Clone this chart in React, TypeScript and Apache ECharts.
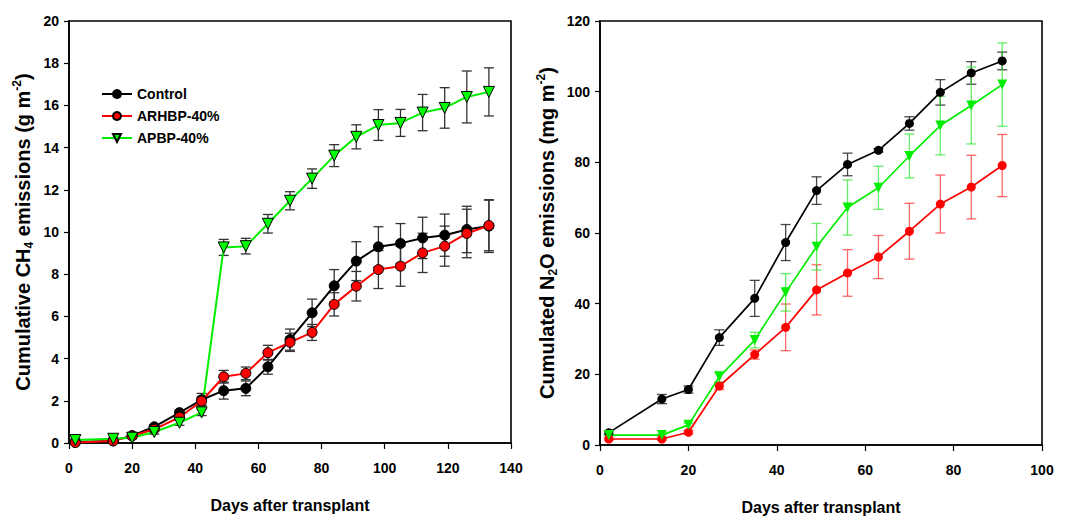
import React, { useEffect, useRef } from "react";
import * as echarts from "echarts";

const seriesNames = ["Control", "ARHBP-40%", "APBP-40%"];

const ch4Days = [2, 14, 20, 27, 35, 42, 49, 56, 63, 70, 77, 84, 91, 98, 105, 112, 119, 126, 133];
const ch4Control = [0.05, 0.1, 0.35, 0.77, 1.44, 2.05, 2.48, 2.59, 3.61, 4.9, 6.17, 7.45, 8.62, 9.3, 9.46, 9.72, 9.85, 10.12, 10.28];
const ch4ControlErr = [0.05, 0.05, 0.05, 0.1, 0.12, 0.3, 0.4, 0.35, 0.35, 0.5, 0.65, 0.77, 0.92, 0.95, 0.94, 0.98, 1.0, 1.1, 1.25];
const ch4Arhbp = [0.02, 0.1, 0.33, 0.65, 1.22, 1.99, 3.14, 3.3, 4.28, 4.77, 5.24, 6.57, 7.43, 8.22, 8.38, 9.01, 9.33, 9.93, 10.31];
const ch4ArhbpErr = [0.03, 0.05, 0.05, 0.08, 0.1, 0.2, 0.3, 0.3, 0.35, 0.43, 0.38, 0.55, 0.7, 0.9, 0.95, 0.93, 0.95, 1.15, 1.2];
const ch4Apbp = [0.14, 0.2, 0.25, 0.52, 0.96, 1.45, 9.27, 9.33, 10.39, 11.48, 12.53, 13.62, 14.51, 15.07, 15.17, 15.66, 15.88, 16.4, 16.64];
const ch4ApbpErr = [0.05, 0.05, 0.05, 0.1, 0.12, 0.15, 0.38, 0.37, 0.44, 0.43, 0.46, 0.52, 0.57, 0.73, 0.64, 0.86, 0.96, 1.23, 1.14];

const n2oDays = [2, 14, 20, 27, 35, 42, 49, 56, 63, 70, 77, 84, 91];
const n2oControl = [3.5, 13.0, 15.7, 30.4, 41.5, 57.3, 72.0, 79.4, 83.4, 91.0, 99.8, 105.3, 108.7];
const n2oControlErr = [0.5, 1.3, 1.0, 2.2, 5.1, 5.1, 3.9, 3.2, 0.5, 1.9, 3.6, 3.2, 2.5];
const n2oArhbp = [1.7, 1.7, 3.6, 16.7, 25.6, 33.3, 43.9, 48.7, 53.2, 60.5, 68.2, 73.0, 79.1];
const n2oArhbpErr = [0.3, 0.3, 0.5, 1.0, 1.3, 6.6, 7.1, 6.6, 6.1, 7.9, 8.2, 9.0, 8.8];
const n2oApbp = [2.8, 2.8, 5.7, 19.3, 29.7, 43.2, 56.1, 67.2, 72.8, 81.8, 90.4, 96.1, 102.0];
const n2oApbpErr = [0.3, 0.3, 0.5, 1.5, 2.2, 5.3, 6.6, 7.8, 6.1, 6.2, 8.3, 10.9, 11.8];

const FONT = "'Liberation Sans Narrow', 'Arial Narrow', 'Liberation Sans', Arial, sans-serif";
const TITLE_FONT = "'Liberation Sans', Arial, sans-serif";

const pts = (days: number[], vals: number[]) => days.map((d, i) => [d, vals[i]]);
const errs = (days: number[], vals: number[], e: number[]) =>
  days.map((d, i) => [d, vals[i] - e[i], vals[i] + e[i]]);

const errRender = (capHalf: number, color: string, lw: number) => (_p: any, api: any) => {
  const x = api.value(0);
  const lo = api.coord([x, api.value(1)]);
  const hi = api.coord([x, api.value(2)]);
  const style = { stroke: color, lineWidth: lw, fill: "none" };
  return {
    type: "group",
    children: [
      { type: "line", shape: { x1: lo[0], y1: lo[1], x2: hi[0], y2: hi[1] }, style },
      { type: "line", shape: { x1: lo[0] - capHalf, y1: lo[1], x2: lo[0] + capHalf, y2: lo[1] }, style },
      { type: "line", shape: { x1: hi[0] - capHalf, y1: hi[1], x2: hi[0] + capHalf, y2: hi[1] }, style },
    ],
  };
};

export default function App() {
  const ref = useRef<HTMLDivElement>(null);
  useEffect(() => {
    document.body.style.margin = "0";
    const chart = echarts.init(ref.current!, null, { renderer: "svg" });

    const axisLabel = { fontFamily: FONT, fontWeight: "bold", fontSize: 14, color: "#000" };
    const axisLine = { show: true, lineStyle: { color: "#000", width: 1.6 } };
    const xName = "Days after transplant";
    const nameStyle = { fontFamily: FONT, fontWeight: "bold", fontSize: 16, color: "#000" };

    const yRich = {
      a: { fontFamily: TITLE_FONT, fontWeight: "bold", fontSize: 20, color: "#000", lineHeight: 24, verticalAlign: "middle" },
      sub: { fontFamily: TITLE_FONT, fontWeight: "bold", fontSize: 12, color: "#000", lineHeight: 24, verticalAlign: "bottom" },
      sup: { fontFamily: TITLE_FONT, fontWeight: "bold", fontSize: 12, color: "#000", lineHeight: 24, verticalAlign: "top" },
    };

    const option: any = {
      animation: false,
      backgroundColor: "#fff",
      legend: {
        data: seriesNames,
        orient: "vertical",
        left: 96,
        top: 82,
        itemWidth: 30,
        itemHeight: 10,
        itemGap: 8,
        textStyle: { fontFamily: FONT, fontWeight: "bold", fontSize: 14, color: "#000" },
      },
      grid: [
        { left: 69, right: 558, top: 21, bottom: 73, containLabel: false, outerBoundsMode: "none", show: true, borderColor: "#000", borderWidth: 1.6, backgroundColor: "transparent" },
        { left: 600, right: 27, top: 21, bottom: 71, containLabel: false, outerBoundsMode: "none", show: true, borderColor: "#000", borderWidth: 1.6, backgroundColor: "transparent" },
      ],
      xAxis: [
        {
          type: "value", gridIndex: 0, min: 0, max: 140, interval: 20,
          axisLine, axisTick: { show: true, length: 6, lineStyle: { color: "#000", width: 1.2 } },
          axisLabel: { ...axisLabel, margin: 18 }, splitLine: { show: false },
          name: xName, nameLocation: "middle", nameGap: 54, nameTextStyle: nameStyle,
        },
        {
          type: "value", gridIndex: 1, min: 0, max: 100, interval: 20,
          axisLine, axisTick: { show: true, length: 6, lineStyle: { color: "#000", width: 1.2 } },
          axisLabel: { ...axisLabel, margin: 18 }, splitLine: { show: false },
          name: xName, nameLocation: "middle", nameGap: 54, nameTextStyle: nameStyle,
        },
      ],
      yAxis: [
        {
          type: "value", gridIndex: 0, min: 0, max: 20, interval: 2,
          axisLine, axisTick: { show: true, length: 5, lineStyle: { color: "#000", width: 1.2 } },
          axisLabel: { ...axisLabel, margin: 10 }, splitLine: { show: false },
          name: "{a|Cumulative CH}{sub|4}{a| emissions (g m}{sup|-2}{a|)}",
          nameLocation: "middle", nameRotate: 90, nameGap: 34,
          nameTextStyle: { rich: yRich },
        },
        {
          type: "value", gridIndex: 1, min: 0, max: 120, interval: 20,
          axisLine, axisTick: { show: true, length: 5, lineStyle: { color: "#000", width: 1.2 } },
          axisLabel: { ...axisLabel, margin: 10 }, splitLine: { show: false },
          name: "{a|Cumulated N}{sub|2}{a|O emissions (mg m}{sup|-2}{a|)}",
          nameLocation: "middle", nameRotate: 90, nameGap: 41,
          nameTextStyle: { rich: yRich },
        },
      ],
      series: [
        { type: "custom", xAxisIndex: 0, yAxisIndex: 0, z: 1, silent: true, renderItem: errRender(5, "#333", 1.3), data: errs(ch4Days, ch4Control, ch4ControlErr), encode: { x: 0, y: [1, 2] } },
        { type: "custom", xAxisIndex: 0, yAxisIndex: 0, z: 1, silent: true, renderItem: errRender(5, "#333", 1.3), data: errs(ch4Days, ch4Arhbp, ch4ArhbpErr), encode: { x: 0, y: [1, 2] } },
        { type: "custom", xAxisIndex: 0, yAxisIndex: 0, z: 1, silent: true, renderItem: errRender(5, "#333", 1.3), data: errs(ch4Days, ch4Apbp, ch4ApbpErr), encode: { x: 0, y: [1, 2] } },
        {
          name: seriesNames[0], type: "line", xAxisIndex: 0, yAxisIndex: 0, z: 3, data: pts(ch4Days, ch4Control),
          symbol: "circle", symbolSize: 10, lineStyle: { color: "#000", width: 2 },
          itemStyle: { color: "#000", borderColor: "#000", borderWidth: 1 },
        },
        {
          name: seriesNames[1], type: "line", xAxisIndex: 0, yAxisIndex: 0, z: 3, data: pts(ch4Days, ch4Arhbp),
          symbol: "circle", symbolSize: 10, lineStyle: { color: "#ff0000", width: 2 },
          itemStyle: { color: "#ff0000", borderColor: "#000", borderWidth: 1 },
        },
        {
          name: seriesNames[2], type: "line", xAxisIndex: 0, yAxisIndex: 0, z: 3, data: pts(ch4Days, ch4Apbp),
          symbol: "triangle", symbolRotate: 180, symbolSize: 11, lineStyle: { color: "#00ee00", width: 2 },
          itemStyle: { color: "#00ff00", borderColor: "#000", borderWidth: 1 },
        },
        { type: "custom", xAxisIndex: 1, yAxisIndex: 1, z: 1, silent: true, renderItem: errRender(5, "rgba(40,40,40,0.85)", 1.3), data: errs(n2oDays, n2oControl, n2oControlErr), encode: { x: 0, y: [1, 2] } },
        { type: "custom", xAxisIndex: 1, yAxisIndex: 1, z: 1, silent: true, renderItem: errRender(5, "rgba(255,40,40,0.7)", 1.3), data: errs(n2oDays, n2oArhbp, n2oArhbpErr), encode: { x: 0, y: [1, 2] } },
        { type: "custom", xAxisIndex: 1, yAxisIndex: 1, z: 1, silent: true, renderItem: errRender(5, "rgba(40,230,40,0.7)", 1.3), data: errs(n2oDays, n2oApbp, n2oApbpErr), encode: { x: 0, y: [1, 2] } },
        {
          name: seriesNames[0], type: "line", xAxisIndex: 1, yAxisIndex: 1, z: 3, data: pts(n2oDays, n2oControl),
          symbol: "circle", symbolSize: 9, lineStyle: { color: "#000", width: 1.7 },
          itemStyle: { color: "#000" },
        },
        {
          name: seriesNames[1], type: "line", xAxisIndex: 1, yAxisIndex: 1, z: 3, data: pts(n2oDays, n2oArhbp),
          symbol: "circle", symbolSize: 9, lineStyle: { color: "#ff0000", width: 1.7 },
          itemStyle: { color: "#ff0000" },
        },
        {
          name: seriesNames[2], type: "line", xAxisIndex: 1, yAxisIndex: 1, z: 3, data: pts(n2oDays, n2oApbp),
          symbol: "triangle", symbolRotate: 180, symbolSize: 10, lineStyle: { color: "#00ee00", width: 1.7 },
          itemStyle: { color: "#00ee00" },
        },
      ],
    };
    chart.setOption(option);
    return () => chart.dispose();
  }, []);
  return <div ref={ref} style={{ width: 1069, height: 516 }} />;
}
